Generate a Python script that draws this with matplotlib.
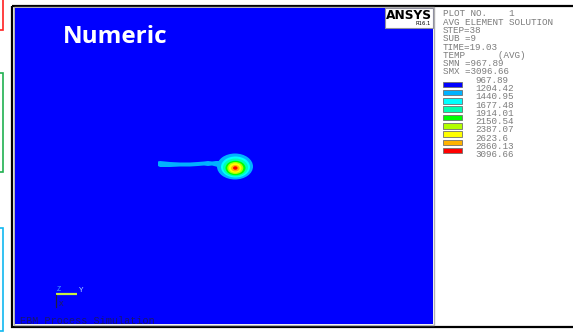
import matplotlib
matplotlib.use("Agg")
import matplotlib.pyplot as plt
from matplotlib.patches import Rectangle, Ellipse, Polygon

# ---------------- data ----------------
levels = [967.89, 1204.42, 1440.95, 1677.48, 1914.01, 2150.54, 2387.07, 2623.6, 2860.13, 3096.66]
band_colors = ["#0000ff", "#00b2ff", "#00ffff", "#00ffb2", "#00ff00",
               "#b2ff00", "#ffff00", "#ffb200", "#ff0000"]
header_lines = ["PLOT NO.    1", "AVG ELEMENT SOLUTION", "STEP=38", "SUB =9",
                "TIME=19.03", "TEMP      (AVG)", "SMN =967.89", "SMX =3096.66"]

# hot spot: nested contour bands (band index 1..8), read in image pixels
spot_band = [1, 2, 3, 4, 5, 6, 7, 8]
spot_cx = [235.0, 235.5, 235.5, 235.5, 235.3, 235.2, 235.3, 235.3]
spot_cy = [166.5, 167.0, 167.5, 168.0, 168.0, 168.0, 168.2, 168.0]
spot_w = [36.0, 29.0, 25.0, 20.0, 16.0, 12.5, 8.5, 4.5]
spot_h = [26.0, 21.0, 18.0, 14.5, 12.0, 9.5, 6.5, 3.5]

# tail (band 1) outline
tail_x = [158, 160, 170, 180, 190, 198, 204, 208, 212, 216, 220, 222]
tail_top = [161.5, 161.0, 162.0, 162.5, 162.5, 162.0, 161.5, 161.0, 161.5, 161.0, 161.0, 161.0]
tail_bot = [166.0, 167.0, 167.0, 166.5, 166.5, 166.0, 165.5, 166.0, 165.5, 166.5, 168.0, 169.0]

# ---------------- figure ----------------
W, H = 573, 334
fig = plt.figure(figsize=(W / 100, H / 100), dpi=100)
ax = fig.add_axes([0, 0, 1, 1])
ax.set_xlim(0, W)
ax.set_ylim(H, 0)
ax.axis("off")

# slide edge markers
ax.add_patch(Rectangle((-10, -10), 12.5, 40, fill=False, ec="#ff2020", lw=1.2))
ax.add_patch(Rectangle((-10, 73), 12.5, 99, fill=False, ec="#20b050", lw=1.2))
ax.add_patch(Rectangle((-10, 228), 12.5, 103, fill=False, ec="#10b8f0", lw=1.2))

# frame
ax.add_patch(Rectangle((11.5, 5.5), 580, 321.5, fill=False, ec="black", lw=1.6))
ax.add_patch(Rectangle((13.5, 7), 420, 318, fill=False, ec="#b0b0b0", lw=1.0))
ax.add_patch(Rectangle((15, 8), 417.5, 316, fc=band_colors[0], ec="none"))

# tail
poly = list(zip(tail_x, tail_top)) + list(zip(tail_x[::-1], tail_bot[::-1]))
ax.add_patch(Polygon(poly, closed=True, fc=band_colors[1], ec="none"))

# hot spot
for b, cx, cy, w, h in zip(spot_band, spot_cx, spot_cy, spot_w, spot_h):
    ax.add_patch(Ellipse((cx, cy), w, h, fc=band_colors[b], ec="none"))

# title
ax.text(63, 37, "Numeric", color="white", fontsize=17.5, fontweight="bold",
        family="Open Sans", ha="left", va="center")

# ANSYS logo box
ax.add_patch(Rectangle((385, 8), 47.5, 19.5, fc="white", ec="#9090a0", lw=0.8))
ax.text(408.5, 15.5, "ANSYS", color="black", fontsize=8.8, fontweight="bold",
        family="DejaVu Sans", ha="center", va="center")
ax.text(431, 23.5, "R16.1", color="black", fontsize=3.8,
        family="DejaVu Sans", ha="right", va="center")

# legend text
mono = "Liberation Mono"
tcol = "#7c7c7c"
fs = 6.7
line_y0, dy = 14.0, 8.28
for i, s in enumerate(header_lines):
    ax.text(443, line_y0 + i * dy, s, color=tcol, fontsize=fs, family=mono,
            ha="left", va="center")
for i, v in enumerate(levels):
    ax.text(475, line_y0 + (len(header_lines) + i) * dy, f"{v:g}", color=tcol,
            fontsize=fs, family=mono, ha="left", va="center")
for i, c in enumerate(band_colors):
    yc = line_y0 + (len(header_lines) + i + 0.5) * dy
    ax.add_patch(Rectangle((443, yc - 2.8), 19, 5.6, fc=c, ec="#707070", lw=0.6))

# triad
ax.plot([56, 77], [293.8, 293.8], color="#c8f040", lw=1.6, solid_capstyle="butt")
ax.plot([56, 56], [294.5, 307], color="#202040", lw=0.9)
ax.text(59, 289.5, "Z", color="#40a8ff", fontsize=5, family=mono, ha="center", va="center")
ax.text(81, 290.5, "Y", color="#b0d8ff", fontsize=5.5, family=mono, ha="center", va="center")
ax.text(61, 304, "X", color="#202050", fontsize=5.5, family=mono, ha="center", va="center")

# footer
ax.text(20, 320.5, "EBM Process Simulation", color="#18186e", fontsize=7.3,
        family=mono, ha="left", va="center")

fig.savefig("out.png", dpi=100)
